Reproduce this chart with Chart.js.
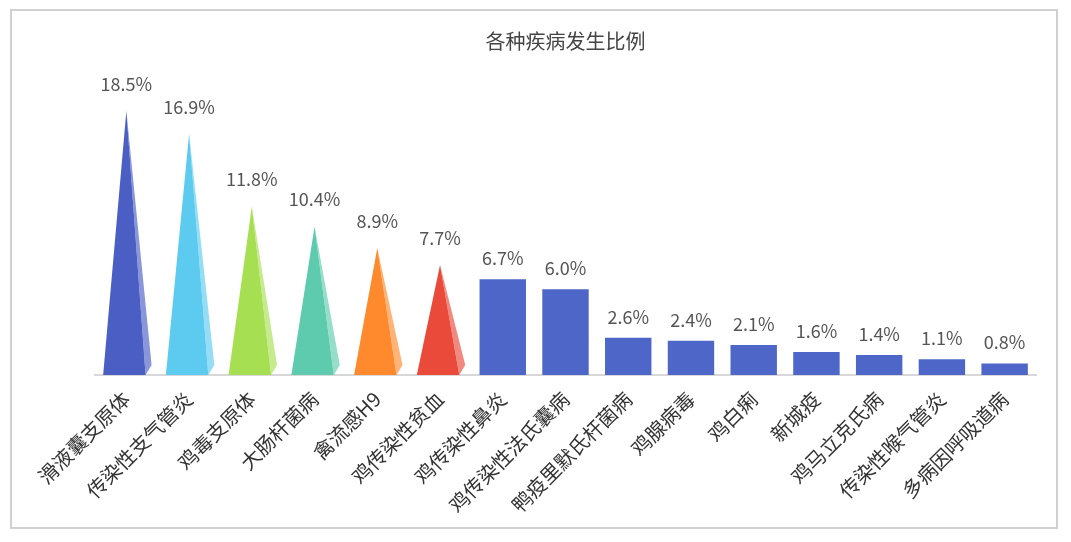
<!DOCTYPE html>
<html><head><meta charset="utf-8">
<script src="https://cdn.jsdelivr.net/npm/chart.js@4/dist/chart.umd.min.js"></script>
<style>
body{margin:0;background:#fff;}
#wrap{position:absolute;left:10px;top:9px;width:1048px;height:520px;border:2px solid #d0d0d0;box-sizing:border-box;}
</style></head><body>
<div id="wrap"><canvas id="c"></canvas></div>
<script>
const categories=["滑液囊支原体","传染性支气管炎","鸡毒支原体","大肠杆菌病","禽流感H9","鸡传染性贫血","鸡传染性鼻炎","鸡传染性法氏囊病","鸭疫里默氏杆菌病","鸡腺病毒","鸡白痢","新城疫","鸡马立克氏病","传染性喉气管炎","多病因呼吸道病"];
const values=[18.5,16.9,11.8,10.4,8.9,7.7,6.7,6.0,2.6,2.4,2.1,1.6,1.4,1.1,0.8];
const pyramidColors=["#4a5ec4","#5ccbef","#a6e052","#5ecbae","#ff8a2e","#ea4a3a"];
const barColor="#4e66c8";
const nPyr=pyramidColors.length;

const plug={id:'pyr',afterDatasetsDraw(chart){
  const ctx=chart.ctx,meta=chart.getDatasetMeta(0),y0=chart.scales.y.getPixelForValue(0);
  meta.data.forEach((el,i)=>{
    const x=el.x,y=el.y,w=el.width;
    if(i<nPyr){
      const c=pyramidColors[i];
      ctx.save();
      ctx.fillStyle=c;
      ctx.beginPath();ctx.moveTo(x,y);ctx.lineTo(x-w/2,y0);ctx.lineTo(x+w/2-4,y0);ctx.closePath();ctx.fill();
      ctx.globalAlpha=0.65;
      ctx.beginPath();ctx.moveTo(x,y);ctx.lineTo(x+w/2-4,y0);ctx.lineTo(x+w/2+2,y0-10);ctx.closePath();ctx.fill();
      ctx.restore();
    }
    ctx.save();ctx.fillStyle="#555";ctx.font="18px 'Noto Sans CJK SC','Open Sans',sans-serif";
    ctx.textAlign="center";ctx.textBaseline="bottom";
    ctx.fillText(values[i].toFixed(1)+"%",x,y-(i<nPyr?18:12));
    ctx.restore();
  });
}};
new Chart(document.getElementById('c'),{
  type:'bar',
  data:{labels:categories,datasets:[{data:values,
    backgroundColor:values.map((v,i)=>i<nPyr?'rgba(0,0,0,0)':barColor),
    categoryPercentage:1,barPercentage:0.74}]},
  options:{responsive:true,maintainAspectRatio:false,animation:false,
    layout:{padding:{left:83,right:20,top:0,bottom:6}},
    plugins:{legend:{display:false},tooltip:{enabled:false},
      title:{display:true,text:"各种疾病发生比例",color:"#444",font:{size:20,family:"'Noto Sans CJK SC'",weight:'normal'},padding:{top:18,bottom:58}}},
    scales:{
      x:{grid:{display:false},border:{color:"#d8d8d8",width:2},
        ticks:{minRotation:45,maxRotation:45,color:"#333",padding:4,font:{size:20,family:"'Noto Sans CJK SC'"}}},
      y:{display:false,min:0,max:18.5}
    }}
  ,plugins:[plug]});
</script></body></html>
